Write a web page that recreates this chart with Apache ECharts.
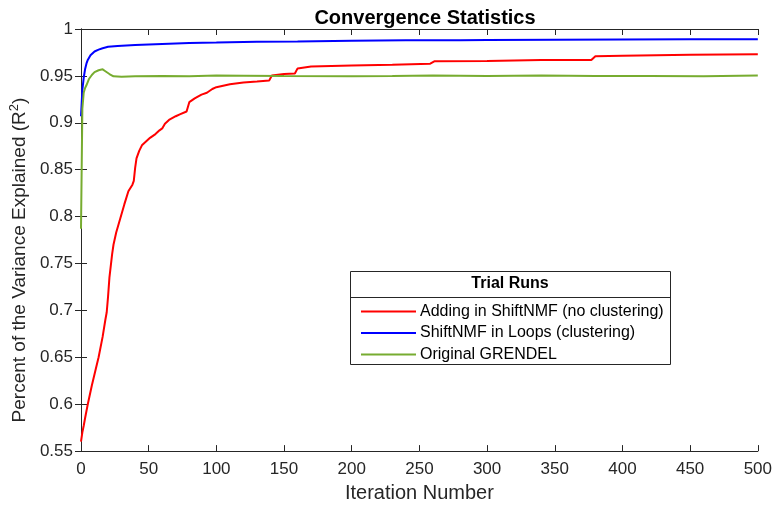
<!DOCTYPE html>
<html>
<head>
<meta charset="utf-8">
<script src="https://cdn.jsdelivr.net/npm/echarts@6/dist/echarts.min.js"></script>
<style>html,body{margin:0;padding:0;background:#fff;}#c{width:775px;height:508px;}</style>
</head>
<body>
<div id="c"></div>
<script>
const titleText = 'Convergence Statistics';
const xName = 'Iteration Number';
const legendTitle = 'Trial Runs';
const seriesNames = ['Adding in ShiftNMF (no clustering)', 'ShiftNMF in Loops (clustering)', 'Original GRENDEL'];

const redIter = [0,1,2,3,5,8,11,13,16,18,19,20,21,23,24,26,29,32,35,38,39,40,41,43,45,48,51,55,58,60,62,65,70,73,78,80,84,89,93,97,100,110,120,130,139,141,150,158,160,170,200,230,258,261,300,340,377,380,400,450,500];
const redVal  = [0.560,0.570,0.577,0.585,0.600,0.620,0.638,0.650,0.672,0.690,0.698,0.715,0.735,0.760,0.770,0.783,0.798,0.813,0.827,0.834,0.838,0.852,0.862,0.870,0.876,0.880,0.884,0.888,0.892,0.894,0.899,0.903,0.907,0.909,0.912,0.922,0.926,0.930,0.932,0.936,0.938,0.941,0.943,0.944,0.945,0.9505,0.952,0.9525,0.958,0.960,0.961,0.962,0.963,0.9655,0.966,0.967,0.967,0.971,0.9715,0.9725,0.973];

const blueIter = [0,1,2,3,4,5,7,10,13,16,20,27,40,60,80,100,130,160,200,240,280,300,350,400,450,500];
const blueVal  = [0.907,0.935,0.948,0.957,0.963,0.967,0.972,0.976,0.978,0.9795,0.981,0.982,0.983,0.984,0.985,0.9855,0.9865,0.9868,0.9875,0.988,0.988,0.9882,0.9885,0.9888,0.989,0.989];

const greenIter = [0,1,2,3,4,6,8,10,13,16,18,21,24,30,40,60,80,100,120,150,200,230,260,300,340,380,420,460,500];
const greenVal  = [0.787,0.915,0.932,0.937,0.940,0.947,0.951,0.954,0.956,0.957,0.955,0.952,0.9495,0.949,0.9495,0.9498,0.9497,0.9505,0.9502,0.9498,0.9497,0.950,0.9505,0.9498,0.9505,0.9498,0.950,0.9497,0.9503];

const colors = ['#ff0000', '#0000ff', '#77ac30'];
const FONT = 'Liberation Sans, Arial, sans-serif';
const AX = '#262626';

function pairs(xs, ys) { return xs.map((x, i) => [x, ys[i]]); }
const datasets = [pairs(redIter, redVal), pairs(blueIter, blueVal), pairs(greenIter, greenVal)];

const chart = echarts.init(document.getElementById('c'), null, {renderer: 'canvas'});
const fmtY = v => String(Math.round(v * 100) / 100);

const option = {
  animation: false,
  backgroundColor: '#ffffff',
  title: {
    text: titleText, left: 420, top: 3, textAlign: 'center',
    textStyle: {fontFamily: FONT, fontSize: 20, fontWeight: 'bold', color: '#000'}
  },
  grid: {left: 81, right: 15, top: 29, bottom: 53, containLabel: false},
  xAxis: [{
    type: 'value', min: 0, max: 500, interval: 50, position: 'bottom',
    name: xName, nameLocation: 'middle', nameGap: 31,
    nameTextStyle: {fontFamily: FONT, fontSize: 20, color: AX},
    axisLine: {show: true, lineStyle: {color: AX, width: 1}},
    axisTick: {show: true, inside: true, length: 6, lineStyle: {color: AX}},
    axisLabel: {fontFamily: FONT, fontSize: 17, color: AX, margin: 10},
    splitLine: {show: false}
  }, {
    type: 'value', min: 0, max: 500, interval: 50, position: 'top',
    axisLine: {show: true, lineStyle: {color: AX, width: 1}},
    axisTick: {show: true, inside: true, length: 6, lineStyle: {color: AX}},
    axisLabel: {show: false}, splitLine: {show: false}
  }],
  yAxis: [{
    type: 'value', min: 0.55, max: 1, interval: 0.05, position: 'left',
    name: '{n|Percent of the Variance Explained (R}{s|2}{n|)}',
    nameLocation: 'middle', nameGap: 50, nameRotate: 90,
    nameTextStyle: {
      fontFamily: FONT, fontSize: 19, color: AX, padding: [0, 40, 0, 0],
      rich: {
        n: {fontFamily: FONT, fontSize: 19, color: AX},
        s: {fontFamily: FONT, fontSize: 13, color: AX, verticalAlign: 'top', padding: [0, 0, 10, 0]}
      }
    },
    axisLine: {show: true, lineStyle: {color: AX, width: 1}},
    axisTick: {show: true, inside: true, length: 6, lineStyle: {color: AX}},
    axisLabel: {fontFamily: FONT, fontSize: 17, color: AX, margin: 8, formatter: fmtY},
    splitLine: {show: false}
  }, {
    type: 'value', min: 0.55, max: 1, interval: 0.05, position: 'right',
    axisLine: {show: true, lineStyle: {color: AX, width: 1}},
    axisTick: {show: true, inside: true, length: 6, lineStyle: {color: AX}},
    axisLabel: {show: false}, splitLine: {show: false}
  }],
  legend: {
    data: seriesNames,
    orient: 'vertical', left: 356, top: 298, z: 10,
    icon: 'rect', itemWidth: 55, itemHeight: 2, itemGap: 4.5,
    textStyle: {fontFamily: FONT, fontSize: 16, color: '#000', lineHeight: 17, padding: [0, 0, 0, -1]},
    selectedMode: false
  },
  graphic: [
    {type: 'rect', z: 5, shape: {x: 350.5, y: 271.5, width: 320, height: 93},
     style: {fill: '#fff', stroke: '#262626', lineWidth: 1}},
    {type: 'line', z: 6, shape: {x1: 350.5, y1: 297.5, x2: 670.5, y2: 297.5},
     style: {stroke: '#262626', lineWidth: 1}},
    {type: 'text', z: 6, x: 510, y: 284,
     style: {text: legendTitle, fontFamily: FONT, fontSize: 16, fontWeight: 'bold', fill: '#000', textAlign: 'center', textVerticalAlign: 'middle'}}
  ],
  series: seriesNames.map((n, i) => ({
    name: n, type: 'line', data: datasets[i], xAxisIndex: 0, yAxisIndex: 0,
    showSymbol: false, symbol: 'none', lineStyle: {color: colors[i], width: 2},
    itemStyle: {color: colors[i]}, z: 2
  }))
};
chart.setOption(option);
</script>
</body>
</html>
